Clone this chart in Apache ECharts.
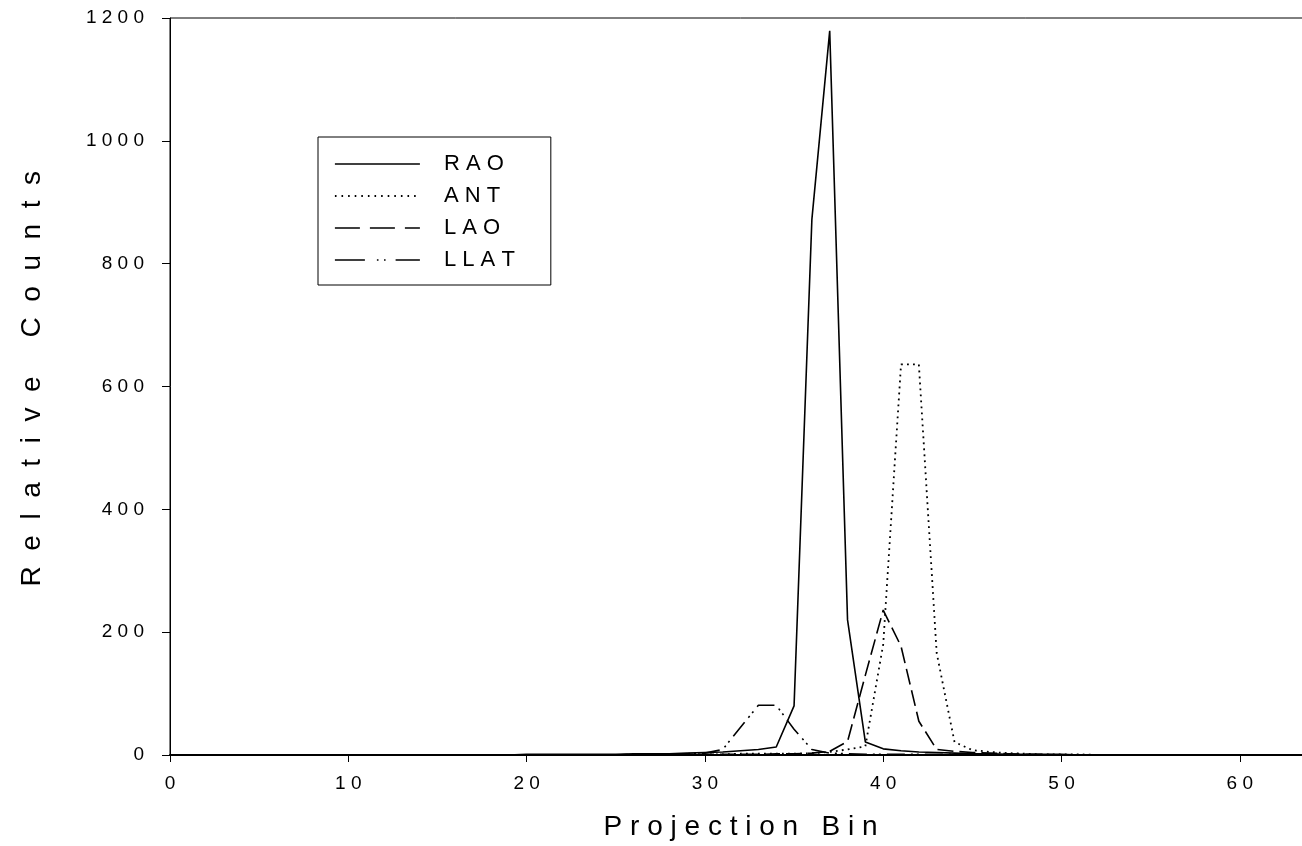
<!DOCTYPE html>
<html>
<head>
<meta charset="utf-8">
<script src="https://cdn.jsdelivr.net/npm/echarts@6/dist/echarts.min.js"></script>
<style>
  html, body { margin: 0; padding: 0; background: #fff; overflow: hidden; }
  #chart { width: 1320px; height: 846px; }
</style>
</head>
<body>
<div id="chart"></div>
<script>
// Projection bins (x) and relative counts per view
const bins = [0,1,2,3,4,5,6,7,8,9,10,11,12,13,14,15,16,17,18,19,20,21,22,23,24,25,26,27,28,29,30,31,
  32,33,34,35,36,37,38,39,40,41,42,43,44,45,46,47,48,49,50,51,52,53,54,55,56,57,58,59,60,61,62,63];

const rao = [0,0,0,0,0,0,0,0,0,0,0,0,0,0,0,0,0,0,0,0,1,1,1,1,1,1,2,2,2,3,4,5,
  7,9,13,80,872,1179,220,21,10,7,5,4,3,2,2,1,1,1,1,0,0,0,0,0,0,0,0,0,0,0,0,0];

const ant = [0,0,0,0,0,0,0,0,0,0,0,0,0,0,0,0,0,0,0,0,0,0,0,0,0,0,1,1,1,1,1,1,
  2,2,2,2,3,5,9,14,180,636,636,166,21,8,5,3,2,1,1,1,0,0,0,0,0,0,0,0,0,0,0,0];

const lao = [0,0,0,0,0,0,0,0,0,0,0,0,0,0,0,0,0,0,0,0,0,0,0,0,0,0,1,1,1,1,1,1,
  1,1,2,2,3,6,22,130,236,177,55,9,6,4,3,2,1,1,0,0,0,0,0,0,0,0,0,0,0,0,0,0];

const llat = [0,0,0,0,0,0,0,0,0,0,0,0,0,0,0,0,0,0,0,0,0,0,0,0,0,0,0,0,1,2,3,9,
  45,81,81,42,9,3,2,1,1,1,1,1,1,1,0,0,0,0,0,0,0,0,0,0,0,0,0,0,0,0,0,0];

const xTicks = { min: 0, max: 64, step: 10 };
const yTicks = { min: 0, max: 1200, step: 200 };

const FONT = '"Liberation Sans", Arial, sans-serif';

// wide-tracked lettering: n spaces between glyphs, a wider run between words
function spaced(s, n) {
  n = n || 1;
  const gap = ' '.repeat(n);
  return s.split(' ').map(w => w.split('').join(gap)).join(' '.repeat(n * 2 + 1));
}

function pairs(vals) { return vals.map((v, i) => [bins[i], v]); }

// dash patterns: on the plot, and the longer ones drawn in the key
const seriesDefs = [
  { name: 'RAO',  data: rao,  type: 'solid', key: 'solid', width: 1.6 },
  { name: 'ANT',  data: ant,  type: [1.8, 4.2], key: [1.6, 5], width: 1.8 },
  { name: 'LAO',  data: lao,  type: [16, 6], key: [25, 10], width: 1.6 },
  { name: 'LLAT', data: llat, type: [18, 6, 2, 4, 2, 6], key: [30, 12, 1.6, 5.5, 1.6, 10], width: 1.6 }
];

const chart = echarts.init(document.getElementById('chart'), null, { renderer: 'canvas' });

chart.setOption({
  animation: false,
  backgroundColor: '#fff',
  grid: {
    left: 170, top: 18, width: 64 * 17.83, height: 739,
    show: true, borderColor: '#000', borderWidth: 1, backgroundColor: 'transparent'
  },
  legend: {
    left: 318, top: 137,
    orient: 'vertical',
    backgroundColor: '#fff',
    borderColor: '#000', borderWidth: 1,
    padding: [16, 36, 14, 16],
    itemWidth: 85, itemHeight: 14, itemGap: 10,
    // line-only keys: the marker dot is made invisible
    itemStyle: { color: 'rgba(0,0,0,0)', borderWidth: 0, opacity: 0 },
    formatter: name => spaced(name),
    textStyle: { fontFamily: FONT, fontSize: 22, color: '#000', padding: [0, 0, 0, 19] },
    data: seriesDefs.map(s => ({
      name: s.name,
      lineStyle: { color: '#000', width: s.width, type: s.key }
    }))
  },
  xAxis: {
    type: 'value',
    min: xTicks.min, max: xTicks.max, interval: xTicks.step,
    name: spaced('Projection Bin'),
    nameLocation: 'middle', nameGap: 58,
    nameTextStyle: { fontFamily: FONT, fontSize: 28, color: '#000' },
    axisLine: { onZero: false, lineStyle: { color: '#000', width: 2 } },
    axisTick: { show: true, length: 7, lineStyle: { color: '#000', width: 1 } },
    axisLabel: {
      margin: 19, fontFamily: FONT, fontSize: 19, color: '#000',
      formatter: v => (v % 10 === 0 && v <= 60) ? spaced(String(v)) : ''
    },
    splitLine: { show: false }
  },
  yAxis: {
    type: 'value',
    min: yTicks.min, max: yTicks.max, interval: yTicks.step,
    name: '  ' + spaced('Relative Counts', 2),
    nameLocation: 'middle', nameGap: 124, nameRotate: 90,
    nameTextStyle: { fontFamily: FONT, fontSize: 28, color: '#000' },
    axisLine: { show: true, lineStyle: { color: '#000', width: 1 } },
    axisTick: { show: true, length: 8, lineStyle: { color: '#000', width: 1 } },
    axisLabel: {
      margin: 26, fontFamily: FONT, fontSize: 19, color: '#000',
      formatter: v => spaced(String(v))
    },
    splitLine: { show: false }
  },
  series: seriesDefs.map(s => ({
    name: s.name,
    type: 'line',
    data: pairs(s.data),
    symbol: 'none',
    showSymbol: false,
    smooth: false,
    clip: true,
    lineStyle: { color: '#000', width: s.width, type: s.type },
    itemStyle: { color: '#000' }
  }))
});
</script>
</body>
</html>
